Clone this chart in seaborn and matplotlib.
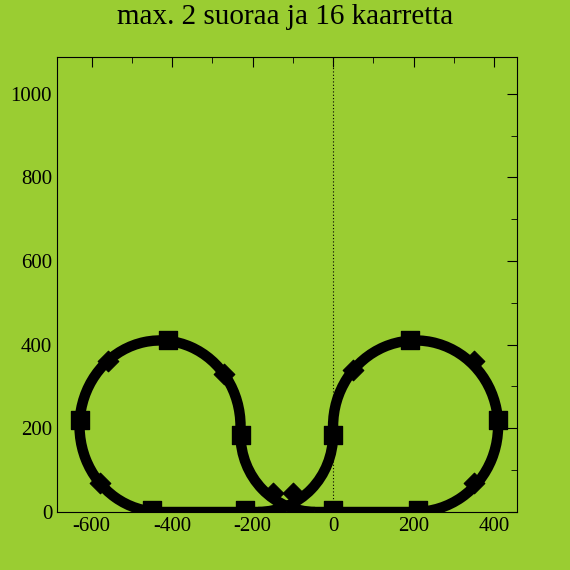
import matplotlib
matplotlib.use("Agg")
import matplotlib.pyplot as plt
from matplotlib.patches import Arc
import seaborn as sns
import pandas as pd

sns.set_style("white")
plt.rcParams['font.family'] = ['Liberation Serif', 'DejaVu Serif']
plt.rcParams['axes.unicode_minus'] = False
plt.rcParams['text.color'] = 'black'
plt.rcParams['xtick.color'] = 'black'
plt.rcParams['ytick.color'] = 'black'

BG = "#9ACD32"

# straights and short joints: (x0, y0, x1, y1)
seg_x0 = [-430, -45, -230, 0]
seg_y0 = [0, 0, 185, 185]
seg_x1 = [-185, 210, -230, 0]
seg_y1 = [0, 0, 205, 205]

# curves as elliptic arcs: centre, width, height, start/end angle
arc_cx = [-430, 205, -185, -45]
arc_cy = [205, 205, 185, 185]
arc_w = [400, 410, 370, 370]
arc_h = [410, 410, 370, 370]
arc_t1 = [0, -90, 270, 180]
arc_t2 = [270, 180, 360, 270]

# joint markers
sq_x = [-410, -630, -230, -450, -220, 0, 0, 190, 410, 210]
sq_y = [410, 220, 185, 5, 5, 5, 185, 410, 220, 5]
di_x = [-560, -270, -580, -150, -100, 50, 350, 350]
di_y = [360, 330, 70, 45, 45, 340, 360, 70]

fig = plt.figure(figsize=(5.7, 5.7), dpi=100, facecolor=BG)
ax = fig.add_axes([0.1, 0.102, 0.807, 0.798])
ax.set_facecolor(BG)

ax.axvline(0, color="black", lw=0.8, ls=(0, (1, 2)))

for x0, y0, x1, y1 in zip(seg_x0, seg_y0, seg_x1, seg_y1):
    ax.plot([x0, x1], [y0, y1], color="black", lw=7.5, solid_capstyle="butt")
for cx, cy, w, h, t1, t2 in zip(arc_cx, arc_cy, arc_w, arc_h, arc_t1, arc_t2):
    ax.add_patch(Arc((cx, cy), w, h, theta1=t1, theta2=t2, color="black", lw=7.5))

sns.scatterplot(data=pd.DataFrame({"x": sq_x, "y": sq_y}), x="x", y="y", ax=ax,
                marker="s", s=150, color="black", edgecolor="black", zorder=5)
sns.scatterplot(data=pd.DataFrame({"x": di_x, "y": di_y}), x="x", y="y", ax=ax,
                marker="D", s=110, color="black", edgecolor="black", zorder=5)

ax.set_xlim(-686, 457)
ax.set_ylim(0, 1088)
ax.set_xticks([-600, -400, -200, 0, 200, 400])
ax.set_xticks(range(-600, 401, 100), minor=True)
ax.set_yticks([0, 200, 400, 600, 800, 1000])
ax.set_yticks(range(0, 1001, 100), minor=True)
ax.tick_params(which="both", direction="in", top=True, right=True, labelsize=15)
ax.tick_params(which="major", length=7)
ax.tick_params(which="minor", length=4)
ax.set_xlabel("")
ax.set_ylabel("")
for s in ax.spines.values():
    s.set_linewidth(0.8)
    s.set_color("black")

fig.text(0.5, 0.97, "max. 2 suoraa ja 16 kaarretta", ha="center", va="center", fontsize=21)
fig.savefig("out.png", dpi=100, facecolor=BG)
